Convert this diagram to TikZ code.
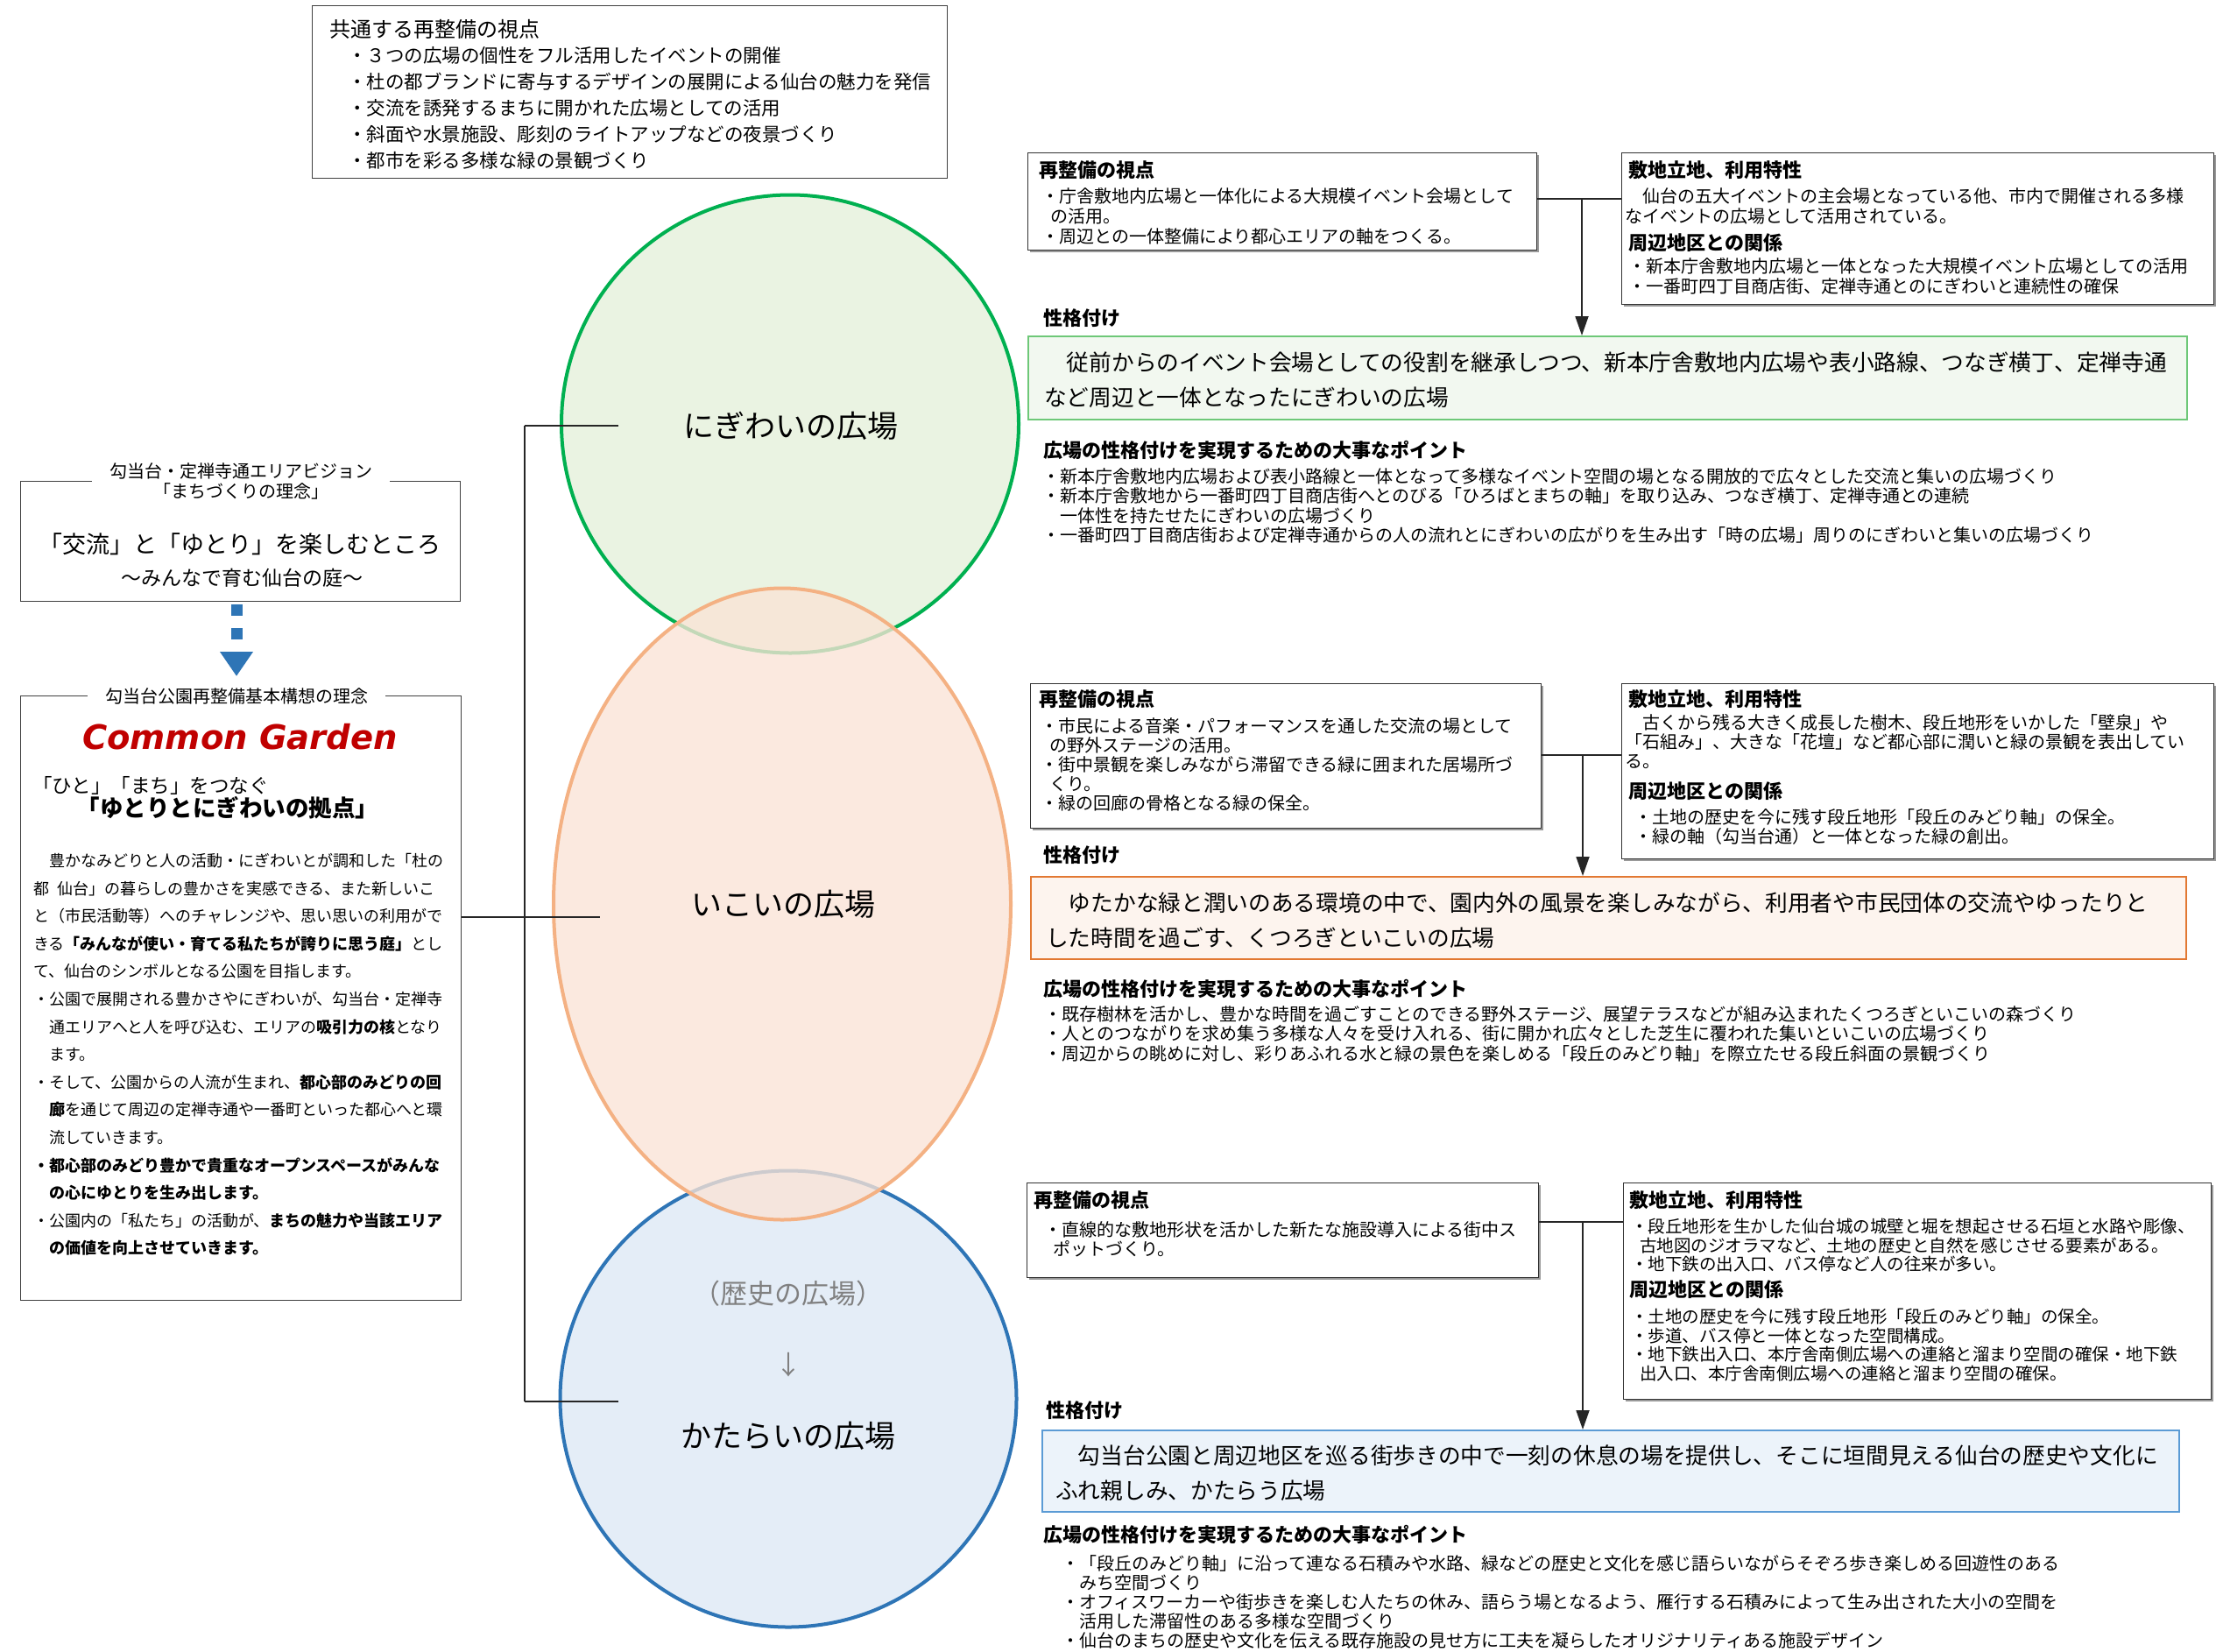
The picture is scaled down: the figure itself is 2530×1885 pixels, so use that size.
\documentclass[tikz,border=0pt]{standalone}
\usepackage{fontspec}
\setmainfont{Noto Sans CJK JP}
\newfontface\cgfont{DejaVu Sans Bold Oblique}
\usetikzlibrary{shapes.geometric,arrows.meta,shadows}
\definecolor{grnS}{RGB}{0,176,80}
\definecolor{grnF}{RGB}{234,243,226}
\definecolor{orgS}{RGB}{244,177,131}
\definecolor{orgF}{RGB}{250,228,214}
\definecolor{bluS}{RGB}{46,117,182}
\definecolor{bluF}{RGB}{228,237,247}
\definecolor{c1F}{RGB}{242,248,240}
\definecolor{c1S}{RGB}{110,200,120}
\definecolor{c2F}{RGB}{253,244,238}
\definecolor{c2S}{RGB}{226,120,50}
\definecolor{c3F}{RGB}{236,243,250}
\definecolor{c3S}{RGB}{91,155,213}
\definecolor{cgRed}{RGB}{192,0,0}
\newcommand\fz[2]{\fontsize{#1pt}{#2pt}\selectfont}
\begin{document}
\begin{tikzpicture}[x=1pt,y=-1pt,
  every node/.style={inner sep=0pt},
  cline/.style={draw=black!85, line width=1.8pt},
  rbox/.style={draw=black!80, line width=1.4pt, fill=white, anchor=north west,
    drop shadow={shadow xshift=2.5pt,shadow yshift=-2.5pt,fill=black!40,opacity=1}},
  lbox/.style={draw=black!75, line width=1.4pt, fill=white, anchor=north west},
  hd/.style={anchor=west, font=\fz{22}{26}\bfseries},
  sb/.style={anchor=north west, align=left, font=\fz{20}{23}},
  bigt/.style={anchor=north west, align=left, font=\fz{25.7}{40}},
  circ/.style={ellipse, line width=4pt},
  tipa/.style={cline, -{Triangle[length=22pt,width=15pt]}},
  ttl/.style={fill=white, inner xsep=20pt, inner ysep=3pt, align=center, font=\fz{20}{23}},
  lab/.style={font=\fz{35}{40}}
]
\useasboundingbox[fill=white] (0,0) rectangle (2530,1885);

% ---------- top box ----------
\node[lbox, minimum width=725pt, minimum height=197pt] (topB) at (356,6) {};
\node[anchor=west, font=\fz{24}{28}] (topH) at (376,33) {共通する再整備の視点};
\node[anchor=north west, align=left, font=\fz{21.5}{30}] (topT) at (397,53) {・３つの広場の個性をフル活用したイベントの開催\\
・杜の都ブランドに寄与するデザインの展開による仙台の魅力を発信\\
・交流を誘発するまちに開かれた広場としての活用\\
・斜面や水景施設、彫刻のライトアップなどの夜景づくり\\
・都市を彩る多様な緑の景観づくり};

% ---------- ellipses ----------
\node[circ, draw=grnS, fill=grnF, minimum width=522pt, minimum height=523pt] (gE) at (902,484) {};
\node[circ, draw=bluS, fill=bluF, minimum width=521pt, minimum height=521pt] (bE) at (900,1597) {};
\node[circ, draw=orgS, fill=orgF, fill opacity=0.78, minimum width=522pt, minimum height=721pt] (oE) at (893,1032) {};
\node[lab] (gL) at (903,486) {にぎわいの広場};
\node[lab] (oL) at (894,1032) {いこいの広場};
\node[font=\fz{31}{36}, text=black!50] (hL) at (900,1477) {（歴史の広場）};
\node[font=\fz{30}{34}, text=black!50] (aL) at (900,1558) {↓};
\node[lab] (bL) at (900,1639) {かたらいの広場};

% ---------- left boxes ----------
\node[lbox, minimum width=502pt, minimum height=137pt] (visB) at (23,549) {};
\node[ttl] (visT) at (275,549) {勾当台・定禅寺通エリアビジョン\\「まちづくりの理念」};
\node[font=\fz{27}{30}] (visM) at (274,621) {「交流」と「ゆとり」を楽しむところ};
\node[font=\fz{23}{26}] (visS) at (276,660) {〜みんなで育む仙台の庭〜};

\coordinate (ds) at (270,690);
\coordinate (de) at (270,772);
\draw[draw=bluS, line width=13pt, dash pattern=on 13pt off 14pt,
  -{Triangle[length=28pt,width=36pt]}] (ds) -- (de);

\node[lbox, minimum width=503pt, minimum height=690pt] (cgB) at (23,794) {};
\node[ttl] (cgTt) at (270,795) {勾当台公園再整備基本構想の理念};
\node[text=cgRed, font=\cgfont\fontsize{38.5pt}{42pt}\selectfont] (cgN) at (274,841) {Common Garden};
\node[anchor=west, font=\fz{22.5}{26}] (cgS1) at (37,897) {「ひと」「まち」をつなぐ};
\node[font=\fz{26.5}{30}\bfseries] (cgS2) at (260,922) {「ゆとりとにぎわいの拠点」};
\node[anchor=north west, align=left, font=\fz{18}{31.6}] (cgT) at (38,974) {　豊かなみどりと人の活動・にぎわいとが調和した「杜の\\
都\hspace*{9pt}仙台」の暮らしの豊かさを実感できる、また新しいこ\\
と（市民活動等）へのチャレンジや、思い思いの利用がで\\
きる\textbf{「みんなが使い・育てる私たちが誇りに思う庭」}とし\\
て、仙台のシンボルとなる公園を目指します。\\
・公園で展開される豊かさやにぎわいが、勾当台・定禅寺\\
　通エリアへと人を呼び込む、エリアの\textbf{吸引力の核}となり\\
　ます。\\
・そして、公園からの人流が生まれ、\textbf{都心部のみどりの回}\\
　\textbf{廊}を通じて周辺の定禅寺通や一番町といった都心へと環\\
　流していきます。\\
\textbf{・都心部のみどり豊かで貴重なオープンスペースがみんな}\\
　\textbf{の心にゆとりを生み出します。}\\
・公園内の「私たち」の活動が、\textbf{まちの魅力や当該エリア}\\
　\textbf{の価値を向上させていきます。}};

% ---------- left connector ----------
\coordinate (lt) at (599,486);
\coordinate (lb) at (599,1600);
\coordinate (e1) at (706,486);
\coordinate (e2) at (685,1047);
\coordinate (e3) at (706,1600);
\draw[cline] (lt) -- (lb);
\draw[cline] (lt) -- (e1);
\draw[cline] (lb) -- (e3);
\draw[cline] (cgB.east |- e2) -- (e2);

% ---------- green section ----------
\node[rbox, minimum width=581pt, minimum height=111pt] (a1) at (1173,174) {};
\node[hd] (a1h) at (1186,194) {再整備の視点};
\node[sb] (a1t) at (1189,214) {・庁舎敷地内広場と一体化による大規模イベント会場として\\
\hspace*{10pt}の活用。\\
・周辺との一体整備により都心エリアの軸をつくる。};
\node[rbox, minimum width=676pt, minimum height=173pt] (b1) at (1851,174) {};
\node[hd] (b1h) at (1859,194) {敷地立地、利用特性};
\node[sb] (b1t) at (1855,214) {　仙台の五大イベントの主会場となっている他、市内で開催される多様\\
なイベントの広場として活用されている。};
\node[hd] (b1h2) at (1859,277) {周辺地区との関係};
\node[sb] (b1u) at (1859,294) {・新本庁舎敷地内広場と一体となった大規模イベント広場としての活用\\
・一番町四丁目商店街、定禅寺通とのにぎわいと連続性の確保};
\node[hd] (s1) at (1191,363) {性格付け};
\node[draw=c1S, fill=c1F, line width=1.8pt, anchor=north west, minimum width=1323pt, minimum height=95pt] (c1) at (1173,383) {};
\node[bigt] (c1t) at (1192,402) {　従前からのイベント会場としての役割を継承しつつ、新本庁舎敷地内広場や表小路線、つなぎ横丁、定禅寺通\\
など周辺と一体となったにぎわいの広場};
\node[hd] (p1h) at (1191,514) {広場の性格付けを実現するための大事なポイント};
\node[sb, font=\fz{20}{22.5}] (p1t) at (1190,534) {・新本庁舎敷地内広場および表小路線と一体となって多様なイベント空間の場となる開放的で広々とした交流と集いの広場づくり\\
・新本庁舎敷地から一番町四丁目商店街へとのびる「ひろばとまちの軸」を取り込み、つなぎ横丁、定禅寺通との連続\\
　一体性を持たせたにぎわいの広場づくり\\
・一番町四丁目商店街および定禅寺通からの人の流れとにぎわいの広がりを生み出す「時の広場」周りのにぎわいと集いの広場づくり};
\coordinate (j1) at (1806,227);
\draw[cline] (a1.east |- j1) -- (b1.west |- j1);
\draw[tipa] (j1) -- (j1 |- c1.north);

% ---------- orange section ----------
\node[rbox, minimum width=583pt, minimum height=165pt] (a2) at (1176,780) {};
\node[hd] (a2h) at (1186,798) {再整備の視点};
\node[sb, font=\fz{20}{22}] (a2t) at (1188,819) {・市民による音楽・パフォーマンスを通した交流の場として\\
\hspace*{10pt}の野外ステージの活用。\\
・街中景観を楽しみながら滞留できる緑に囲まれた居場所づ\\
\hspace*{10pt}くり。\\
・緑の回廊の骨格となる緑の保全。};
\node[rbox, minimum width=676pt, minimum height=200pt] (b2) at (1851,780) {};
\node[hd] (b2h) at (1859,798) {敷地立地、利用特性};
\node[sb, font=\fz{20}{22}] (b2t) at (1855,815) {　古くから残る大きく成長した樹木、段丘地形をいかした「壁泉」や\\
「石組み」、大きな「花壇」など都心部に潤いと緑の景観を表出してい\\
る。};
\node[hd] (b2h2) at (1859,903) {周辺地区との関係};
\node[sb, font=\fz{20}{22}] (b2u) at (1866,923) {・土地の歴史を今に残す段丘地形「段丘のみどり軸」の保全。\\
・緑の軸（勾当台通）と一体となった緑の創出。};
\node[hd] (s2) at (1191,976) {性格付け};
\node[draw=c2S, fill=c2F, line width=1.8pt, anchor=north west, minimum width=1319pt, minimum height=94pt] (c2) at (1176,1000) {};
\node[bigt] (c2t) at (1194,1019) {　ゆたかな緑と潤いのある環境の中で、園内外の風景を楽しみながら、利用者や市民団体の交流やゆったりと\\
した時間を過ごす、くつろぎといこいの広場};
\node[hd] (p2h) at (1191,1129) {広場の性格付けを実現するための大事なポイント};
\node[sb, font=\fz{20}{22.5}] (p2t) at (1192,1148) {・既存樹林を活かし、豊かな時間を過ごすことのできる野外ステージ、展望テラスなどが組み込まれたくつろぎといこいの森づくり\\
・人とのつながりを求め集う多様な人々を受け入れる、街に開かれ広々とした芝生に覆われた集いといこいの広場づくり\\
・周辺からの眺めに対し、彩りあふれる水と緑の景色を楽しめる「段丘のみどり軸」を際立たせる段丘斜面の景観づくり};
\coordinate (j2) at (1807,862);
\draw[cline] (a2.east |- j2) -- (b2.west |- j2);
\draw[tipa] (j2) -- (j2 |- c2.north);

% ---------- blue section ----------
\node[rbox, minimum width=584pt, minimum height=108pt] (a3) at (1172,1350) {};
\node[hd] (a3h) at (1180,1370) {再整備の視点};
\node[sb, font=\fz{20}{22}] (a3t) at (1192,1394) {・直線的な敷地形状を活かした新たな施設導入による街中ス\\
\hspace*{10pt}ポットづくり。};
\node[rbox, minimum width=671pt, minimum height=247pt] (b3) at (1853,1350) {};
\node[hd] (b3h) at (1860,1370) {敷地立地、利用特性};
\node[sb, font=\fz{19.5}{21.5}] (b3t) at (1862,1391) {・段丘地形を生かした仙台城の城壁と堀を想起させる石垣と水路や彫像、\\
\hspace*{10pt}古地図のジオラマなど、土地の歴史と自然を感じさせる要素がある。\\
・地下鉄の出入口、バス停など人の往来が多い。};
\node[hd] (b3h2) at (1860,1472) {周辺地区との関係};
\node[sb, font=\fz{19.5}{21.5}] (b3u) at (1862,1494) {・土地の歴史を今に残す段丘地形「段丘のみどり軸」の保全。\\
・歩道、バス停と一体となった空間構成。\\
・地下鉄出入口、本庁舎南側広場への連絡と溜まり空間の確保・地下鉄\\
\hspace*{10pt}出入口、本庁舎南側広場への連絡と溜まり空間の確保。};
\node[hd] (s3) at (1194,1610) {性格付け};
\node[draw=c3S, fill=c3F, line width=1.8pt, anchor=north west, minimum width=1298pt, minimum height=93pt] (c3) at (1189,1632) {};
\node[bigt] (c3t) at (1205,1649) {　勾当台公園と周辺地区を巡る街歩きの中で一刻の休息の場を提供し、そこに垣間見える仙台の歴史や文化に\\
ふれ親しみ、かたらう広場};
\node[hd] (p3h) at (1191,1752) {広場の性格付けを実現するための大事なポイント};
\node[sb, font=\fz{20}{22.2}] (p3t) at (1212,1775) {・「段丘のみどり軸」に沿って連なる石積みや水路、緑などの歴史と文化を感じ語らいながらそぞろ歩き楽しめる回遊性のある\\
　みち空間づくり\\
・オフィスワーカーや街歩きを楽しむ人たちの休み、語らう場となるよう、雁行する石積みによって生み出された大小の空間を\\
　活用した滞留性のある多様な空間づくり\\
・仙台のまちの歴史や文化を伝える既存施設の見せ方に工夫を凝らしたオリジナリティある施設デザイン};
\coordinate (j3) at (1807,1395);
\draw[cline] (a3.east |- j3) -- (b3.west |- j3);
\draw[tipa] (j3) -- (j3 |- c3.north);
\end{tikzpicture}
\end{document}
